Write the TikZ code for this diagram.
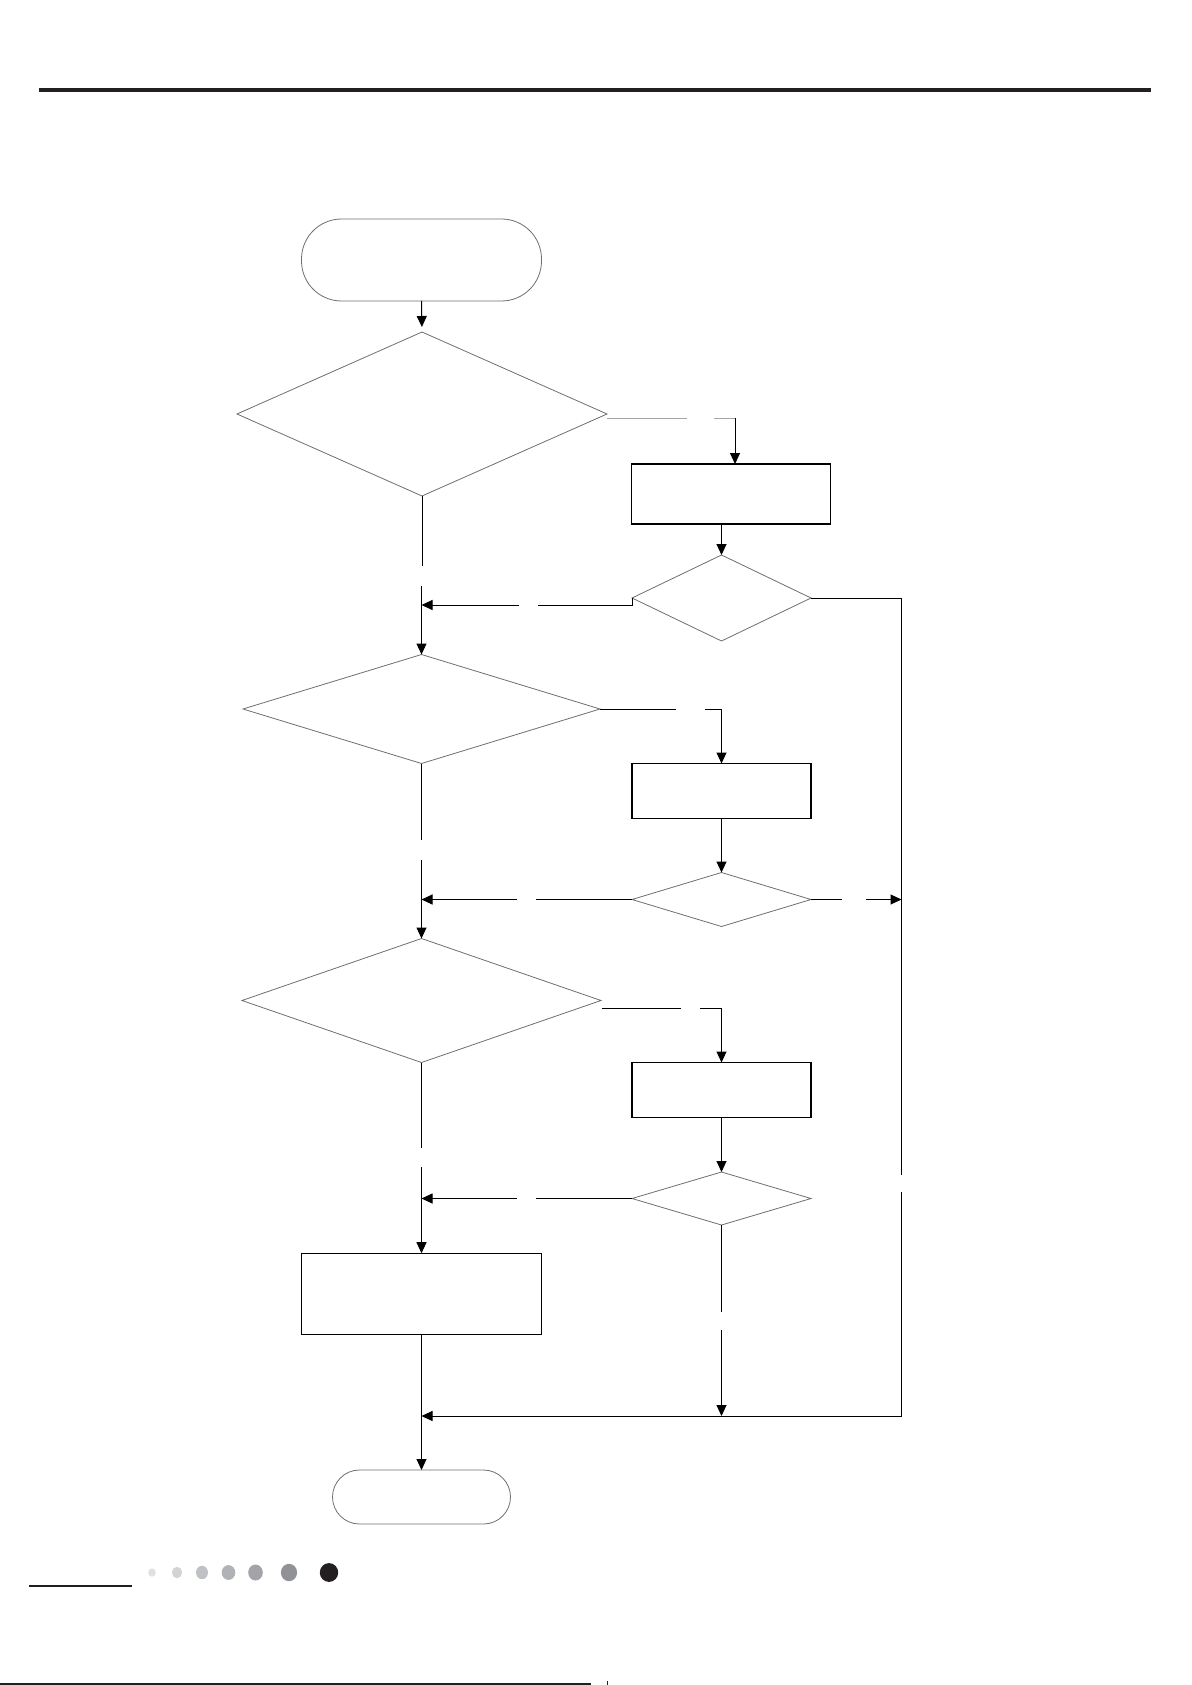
\documentclass[tikz,border=0pt]{standalone}
\usetikzlibrary{shapes.geometric,arrows.meta}
\definecolor{dotA}{HTML}{E0E0E2}
\definecolor{dotB}{HTML}{D2D3D5}
\definecolor{dotC}{HTML}{C0C1C4}
\definecolor{dotD}{HTML}{B0B2B5}
\definecolor{dotE}{HTML}{A2A4A8}
\definecolor{dotF}{HTML}{909297}
\definecolor{dotG}{HTML}{231F20}
\definecolor{edgegray}{HTML}{6E6E6E}
\tikzset{
  dec/.style={shape=diamond, draw=edgegray, line width=0.8pt, inner sep=0pt, outer sep=0pt},
  procbox/.style={shape=rectangle, draw=black, line width=1.1pt, inner sep=0pt, outer sep=0pt},
  termnode/.style={shape=rectangle, draw=edgegray, line width=0.8pt, inner sep=0pt, outer sep=0pt},
  flow/.style={draw=black, line width=1pt},
  flowarrow/.style={flow, -{Triangle[length=11pt,width=10pt]}},
  grayflow/.style={draw=gray!70, line width=1pt},
}
\begin{document}
\begin{tikzpicture}[x=1pt,y=-1pt]
\useasboundingbox (0,0) rectangle (1191,1685);
% header
\draw[line width=4pt, color=dotG] (39,90) -- (1151,90);

% nodes
\node[termnode, rounded corners=40pt, minimum width=240pt, minimum height=82pt] (start) at (421.5,260) {};
\node[dec, minimum width=370pt, minimum height=164pt] (d1) at (422,414) {};
\node[procbox, minimum width=199pt, minimum height=60pt] (b1) at (731,494) {};
\node[dec, minimum width=179pt, minimum height=86pt] (d2) at (721.5,598) {};
\node[dec, minimum width=357pt, minimum height=109pt] (d3) at (421.5,709) {};
\node[procbox, minimum width=179pt, minimum height=55pt] (b2) at (721.5,791) {};
\node[dec, minimum width=179pt, minimum height=54pt] (d4) at (721.5,899.5) {};
\node[dec, minimum width=359pt, minimum height=124pt] (d5) at (421.5,1000.5) {};
\node[procbox, minimum width=179pt, minimum height=55pt] (b3) at (721.5,1090) {};
\node[dec, minimum width=179pt, minimum height=53pt] (d6) at (721.5,1198.5) {};
\node[procbox, minimum width=240pt, minimum height=81pt] (b4) at (421.5,1293.7) {};
\node[termnode, rounded corners=27pt, minimum width=178pt, minimum height=54pt] (stop) at (421.5,1497) {};

% helper coordinates
\coordinate (rtop) at (901.5,598);
\coordinate (rgapA) at (901.5,1175);
\coordinate (rgapB) at (901.5,1192);
\coordinate (rbot) at (901.5,1416);
\coordinate (mbot) at (421.5,1416);

% start -> d1
\draw[flowarrow, shorten >=5pt] (start.south) -- (d1.north);

% d1 right branch -> b1
\draw[grayflow] ([yshift=-4pt]d1.east) -- (687,418);
\draw[grayflow] (714,418) -- (735,418);
\draw[flowarrow] (735,418) -- (735,464);

% b1 -> d2
\draw[flowarrow] (721.5,524) -- (d2.north);

% d2 left -> main line
\draw[flow] (d2.west) -- (632,605) -- (538,605);
\draw[flowarrow] (519,605) -- (421.5,605);

% d2 right -> right rail
\draw[flow] (d2.east) -- (rtop) -- (rgapA);
\draw[flow] (rgapB) -- (rbot);
\draw[flowarrow] (rbot) -- (mbot);

% d1 down -> d3
\draw[flow] (d1.south) -- (422,566);
\draw[flowarrow] (421.5,586) -- (d3.north);

% d3 right -> b2
\draw[flow] (d3.east) -- (676,709);
\draw[flow] (705,709) -- (721.5,709);
\draw[flowarrow] (721.5,709) -- (b2.north);

% b2 -> d4
\draw[flowarrow] (b2.south) -- (d4.north);

% d4 left -> main line
\draw[flow] (d4.west) -- (535.5,899.5);
\draw[flowarrow] (516.5,899.5) -- (421.5,899.5);

% d4 right -> right rail
\draw[flow] (d4.east) -- (841.5,899.5);
\draw[flowarrow] (866,899.5) -- (901.5,899.5);

% d3 down -> d5
\draw[flow] (d3.south) -- (421.5,840);
\draw[flowarrow] (421.5,859.5) -- (d5.north);

% d5 right -> b3
\draw[flow] (601.5,1008) -- (681,1008);
\draw[flow] (700,1008) -- (721.5,1008);
\draw[flowarrow] (721.5,1008) -- (b3.north);

% b3 -> d6
\draw[flowarrow] (b3.south) -- (d6.north);

% d6 left -> main line
\draw[flow] (d6.west) -- (535.5,1198.5);
\draw[flowarrow] (516.5,1198.5) -- (421.5,1198.5);

% d5 down -> b4
\draw[flow] (d5.south) -- (421.5,1148);
\draw[flowarrow] (421.5,1167) -- (b4.north);

% b4 -> stop
\draw[flowarrow] (b4.south) -- (stop.north);

% d6 down -> bottom rail
\draw[flow] (d6.south) -- (721.5,1311.7);
\draw[flowarrow] (721.5,1330) -- (721.5,1416);

% footer
\draw[line width=2.2pt, color=dotG] (29,1586) -- (131.7,1586);
\fill[dotA] (152,1572.5) ellipse [x radius=3.8pt, y radius=4.2pt];
\fill[dotB] (177,1572.5) ellipse [x radius=5.1pt, y radius=5.7pt];
\fill[dotC] (202,1572.5) ellipse [x radius=6pt, y radius=6.7pt];
\fill[dotD] (228.5,1572.5) ellipse [x radius=6.8pt, y radius=7.4pt];
\fill[dotE] (255.5,1572.5) ellipse [x radius=7.3pt, y radius=8pt];
\fill[dotF] (289,1572.5) ellipse [x radius=8.1pt, y radius=8.7pt];
\fill[dotG] (329,1572.5) ellipse [x radius=9.2pt, y radius=9.4pt];
\draw[line width=1.5pt, color=dotG] (0,1684) -- (591,1684);
\draw[line width=0.6pt, color=dotG] (607,1681) -- (607,1685);
\end{tikzpicture}
\end{document}
